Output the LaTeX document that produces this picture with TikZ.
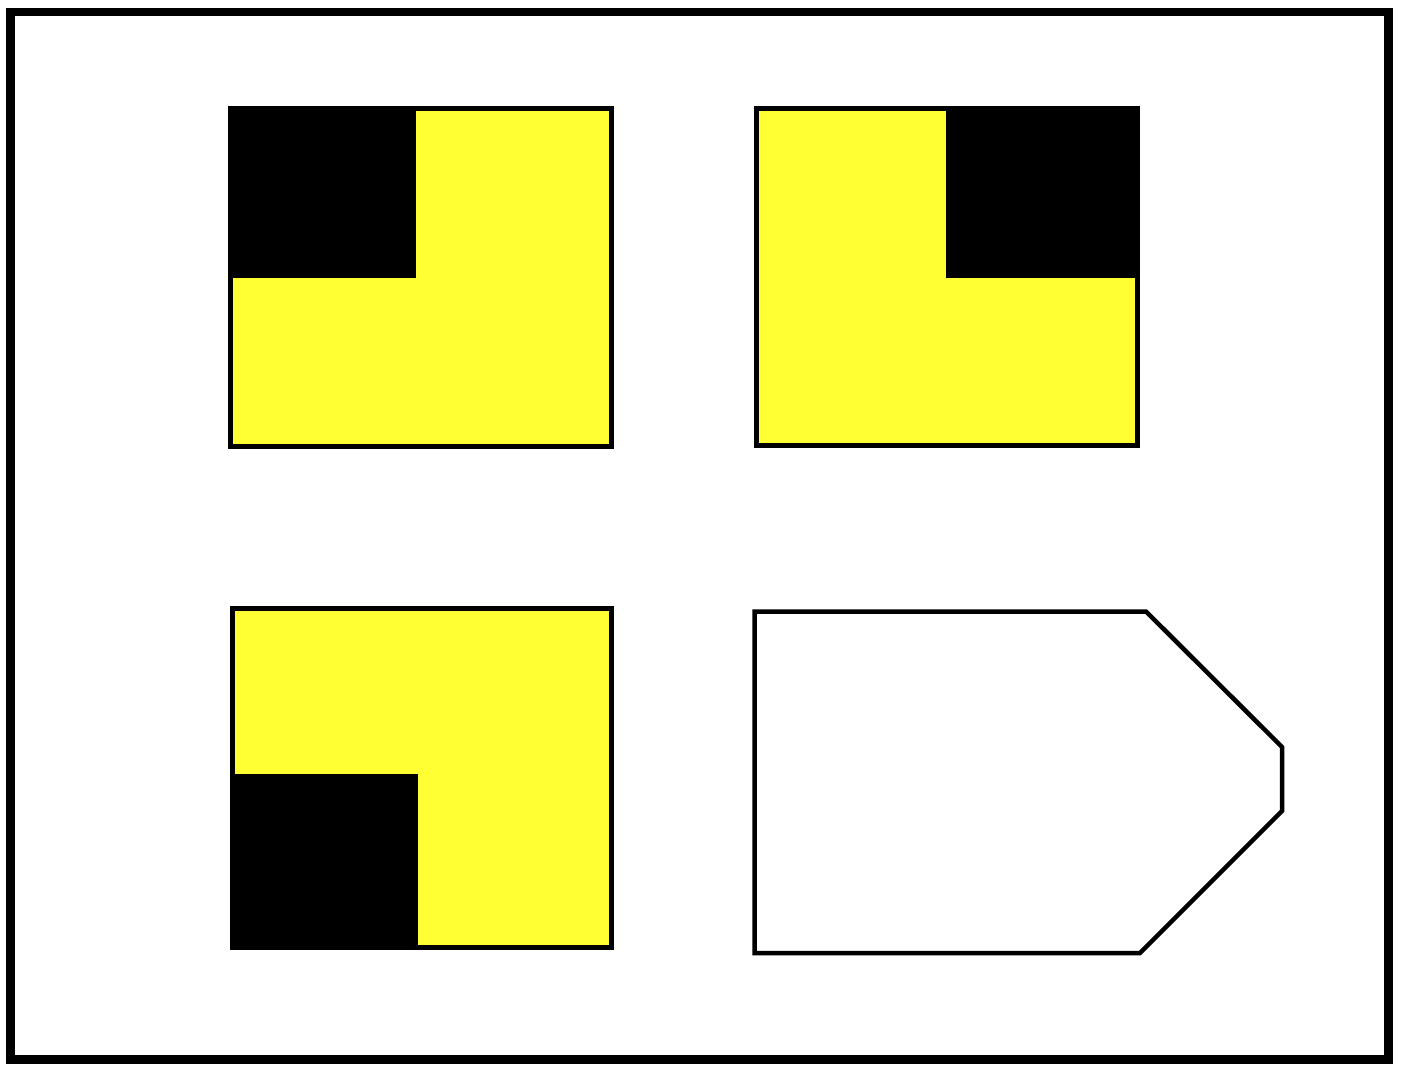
\documentclass[tikz,border=0pt]{standalone}
\definecolor{ylw}{RGB}{255,255,51}
\begin{document}
\begin{tikzpicture}[x=1pt,y=-1pt,
  panel/.style={draw=black,line width=5pt,fill=ylw},
  blk/.style={fill=black},
  frame/.style={draw=black,line width=8.5pt},
  tag/.style={draw=black,line width=4.5pt,fill=white,line join=miter}]
\useasboundingbox[fill=white] (0,0) rectangle (1404,1074);
\draw[frame] (10.5,12) rectangle (1388.5,1059.5);
% top-left
\draw[panel] (230.5,108.5) rectangle (611.5,446.5);
\fill[blk] (228,106) rectangle (416,278);
% top-right
\draw[panel] (756.5,108.5) rectangle (1137.5,445.5);
\fill[blk] (946,106) rectangle (1140,278);
% bottom-left
\draw[panel] (232.5,608.5) rectangle (611.5,947.5);
\fill[blk] (230,774) rectangle (418,950);
% bottom-right tag
\draw[tag] (754.5,611.5) -- (1146,611.5) -- (1282,747) -- (1282,811) -- (1140,953) -- (754.5,953) -- cycle;
\end{tikzpicture}
\end{document}
